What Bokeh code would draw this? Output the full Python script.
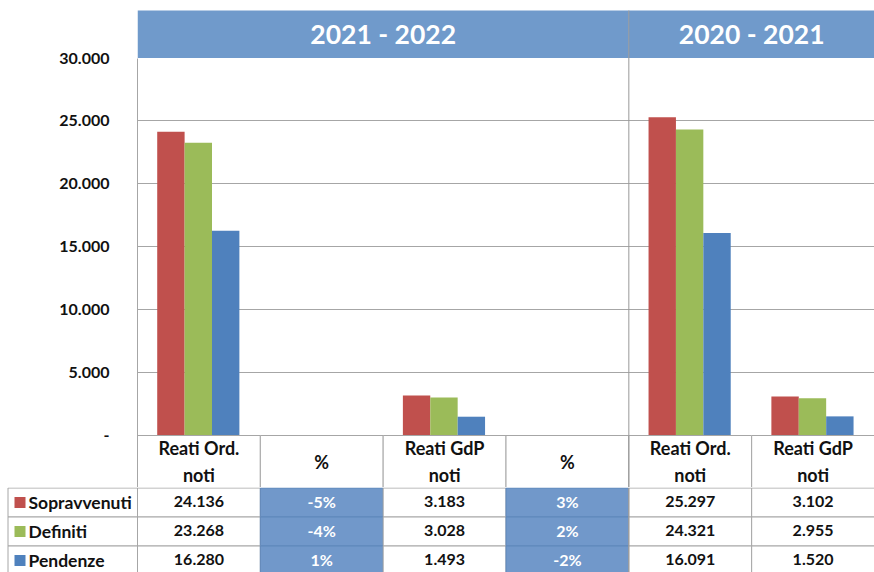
from bokeh.plotting import figure
from bokeh.layouts import column
from bokeh.models import Range1d, FixedTicker
from bokeh.core.properties import value
from bokeh.embed import file_html
from bokeh.resources import INLINE

# ---------------- data ----------------
column_labels = ["Reati Ord.\nnoti", "%", "Reati GdP\nnoti", "%", "Reati Ord.\nnoti", "Reati GdP\nnoti"]
periods = ["2021 - 2022", "2020 - 2021"]
period_columns = [4, 2]          # how many table columns each period header spans
series = ["Sopravvenuti", "Definiti", "Pendenze"]
colors = ["#C0504D", "#9BBB59", "#4F81BD"]

sopravvenuti = [24136, None, 3183, None, 25297, 3102]
definiti = [23268, None, 3028, None, 24321, 2955]
pendenze = [16280, None, 1493, None, 16091, 1520]

sopravvenuti_pct = [None, -5, None, 3, None, None]
definiti_pct = [None, -4, None, 2, None, None]
pendenze_pct = [None, 1, None, -2, None, None]

y_ticks = [0, 5000, 10000, 15000, 20000, 25000, 30000]

values = [sopravvenuti, definiti, pendenze]
pcts = [sopravvenuti_pct, definiti_pct, pendenze_pct]

# ---------------- layout constants ----------------
W = 874
LEFT = 137
NCOL = len(column_labels)
COLW = (W - LEFT) / NCOL
TOP_PAD = 10
HDR_PX = 47.5
PLOT_PX = 377.5
HROW_PX = 52
FIG1_H = 487
FIG2_H = 85
ROW_PX = 29
YMAX = y_ticks[-1]
ppu = PLOT_PX / YMAX
y_start = -HROW_PX / ppu
hdr_top = YMAX + HDR_PX / ppu
y_end = YMAX + (HDR_PX + TOP_PAD) / ppu

FONT = "Lato"
TXT = "#111111"
GRID = "#a6a6a6"
DIV = "#999999"
HDR_BLUE = "#709ACB"
CELL_BLUE = "#7198CA"
CELL_BLUE_LINE = "#5F87BA"


def fmt(v):
    return f"{v:,}".replace(",", ".")


# ---------------- chart figure ----------------
p = figure(width=W, height=FIG1_H, x_range=Range1d(0, NCOL), y_range=Range1d(y_start, y_end),
           x_axis_location=None, toolbar_location=None, output_backend="svg",
           min_border_left=LEFT, min_border_right=0, min_border_top=0, min_border_bottom=0,
           outline_line_color=None, background_fill_color="white", border_fill_color="white")
p.frame_align = False

p.yaxis.ticker = FixedTicker(ticks=y_ticks)
p.yaxis.bounds = (y_start, YMAX)
p.yaxis.major_label_overrides = {t: ("-" if t == 0 else fmt(t)) for t in y_ticks}
p.yaxis.major_tick_line_color = None
p.yaxis.minor_tick_line_color = None
p.yaxis.axis_line_color = GRID
p.yaxis.major_label_text_font = FONT
p.yaxis.major_label_text_font_style = "bold"
p.yaxis.major_label_text_font_size = "16px"
p.yaxis.major_label_text_color = TXT
p.yaxis.major_label_standoff = 22

p.xgrid.visible = False
p.ygrid.ticker = FixedTicker(ticks=y_ticks[1:-1])
p.ygrid.grid_line_color = GRID

# bars
bw = 0.223
offsets = [-bw, 0, bw]
for k in range(3):
    xs = [i + 0.495 + offsets[k] for i, v in enumerate(values[k]) if v is not None]
    tops = [v for v in values[k] if v is not None]
    p.vbar(x=xs, top=tops, width=bw, bottom=0, fill_color=colors[k], line_color=None)

# period headers
lefts, rights = [], []
acc = 0
for n in period_columns:
    lefts.append(acc)
    acc += n
    rights.append(acc)
p.quad(left=lefts, right=rights, bottom=YMAX, top=hdr_top, fill_color=HDR_BLUE, line_color=None)
p.text(x=[(l + r) / 2 for l, r in zip(lefts, rights)], y=[(YMAX + hdr_top) / 2] * len(periods),
       text=periods, text_color="white", text_font=value(FONT), text_font_style="bold",
       text_font_size="26.5px", text_align="center", text_baseline="middle")

# table header row (below zero)
p.quad(left=list(range(NCOL)), right=[i + 1 for i in range(NCOL)], bottom=y_start, top=0,
       fill_color="white", line_color=GRID)
p.text(x=[i + 0.5 for i in range(NCOL)], y=[y_start / 2] * NCOL, text=column_labels,
       text_color=TXT, text_font=value(FONT), text_font_style="bold", text_font_size="18px",
       text_align="center", text_baseline="middle", text_line_height=1.22)

# period divider
p.segment(x0=lefts[1:], y0=[y_start] * (len(lefts) - 1), x1=lefts[1:], y1=[hdr_top] * (len(lefts) - 1),
          line_color=DIV, line_width=1)

# ---------------- table figure ----------------
L = LEFT / COLW
top_ = -0.5 / ROW_PX
bot_ = top_ + FIG2_H / ROW_PX
t = figure(width=W, height=FIG2_H, x_range=Range1d(-L, NCOL), y_range=Range1d(bot_, top_),
           x_axis_location=None, y_axis_location=None, toolbar_location=None, output_backend="svg",
           min_border_left=0, min_border_right=0, min_border_top=0, min_border_bottom=0,
           outline_line_color=None, background_fill_color="white", border_fill_color="white")
t.frame_align = False
t.xgrid.visible = False
t.ygrid.visible = False

for r in range(3):
    # label cell
    t.quad(left=[-L + 7.5 / COLW], right=[0], top=[r], bottom=[r + 1], fill_color="white", line_color=GRID)
    t.scatter(x=[-L + 19.5 / COLW], y=[r + 0.5], marker="square", size=11, fill_color=colors[r], line_color=None)
    t.text(x=[-L + 28 / COLW], y=[r + 0.5], text=[series[r]], text_color=TXT, text_font=value(FONT),
           text_font_style="bold", text_font_size="17.5px", text_align="left", text_baseline="middle")
    for c in range(NCOL):
        is_pct = pcts[r][c] is not None
        t.quad(left=[c], right=[c + 1], top=[r], bottom=[r + 1],
               fill_color=CELL_BLUE if is_pct else "white",
               line_color=CELL_BLUE_LINE if is_pct else GRID)
        txt = f"{pcts[r][c]}%" if is_pct else fmt(values[r][c])
        t.text(x=[c + 0.5], y=[r + 0.45], text=[txt], text_color="white" if is_pct else TXT,
               text_font=value(FONT), text_font_style="bold", text_font_size="16px",
               text_align="center", text_baseline="middle")

t.segment(x0=[lefts[1]], y0=[0], x1=[lefts[1]], y1=[bot_], line_color=DIV, line_width=1)

layout = column(p, t, spacing=0)
open("out.html", "w").write(file_html(layout, INLINE))
